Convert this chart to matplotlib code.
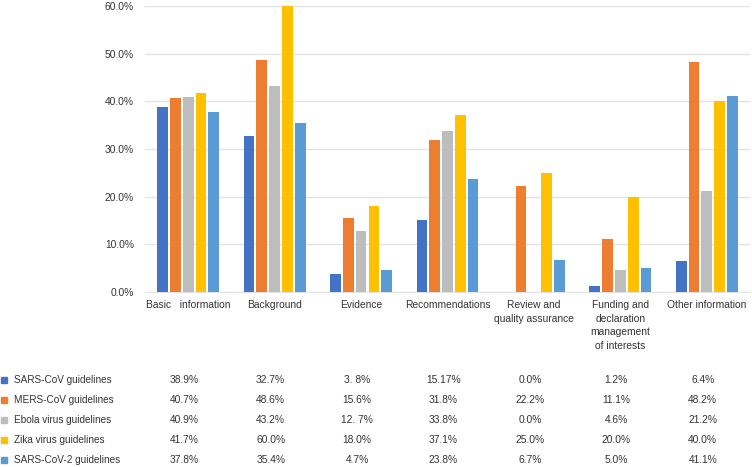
import matplotlib.pyplot as plt
import numpy as np
from matplotlib.ticker import PercentFormatter

plt.rcParams['font.family'] = ['Liberation Sans', 'DejaVu Sans']

# categories and series
categories = ['Basic   information', 'Background', 'Evidence', 'Recommendations',
              'Review and\nquality assurance',
              'Funding and\ndeclaration\nmanagement\nof interests',
              'Other information']
series_names = ['SARS-CoV guidelines', 'MERS-CoV guidelines', 'Ebola virus guidelines',
                'Zika virus guidelines', 'SARS-CoV-2 guidelines']

sars_cov = [38.9, 32.7, 3.8, 15.17, 0.0, 1.2, 6.4]
mers_cov = [40.7, 48.6, 15.6, 31.8, 22.2, 11.1, 48.2]
ebola = [40.9, 43.2, 12.7, 33.8, 0.0, 4.6, 21.2]
zika = [41.7, 60.0, 18.0, 37.1, 25.0, 20.0, 40.0]
sars_cov2 = [37.8, 35.4, 4.7, 23.8, 6.7, 5.0, 41.1]

# table text as printed in the source
table_text = [
    ['38.9%', '32.7%', '3. 8%', '15.17%', '0.0%', '1.2%', '6.4%'],
    ['40.7%', '48.6%', '15.6%', '31.8%', '22.2%', '11.1%', '48.2%'],
    ['40.9%', '43.2%', '12. 7%', '33.8%', '0.0%', '4.6%', '21.2%'],
    ['41.7%', '60.0%', '18.0%', '37.1%', '25.0%', '20.0%', '40.0%'],
    ['37.8%', '35.4%', '4.7%', '23.8%', '6.7%', '5.0%', '41.1%'],
]

colors = ['#4472C4', '#ED7D31', '#BDBDBD', '#FFC000', '#5B9BD5']
all_series = [sars_cov, mers_cov, ebola, zika, sars_cov2]

W, H = 752, 467
fig = plt.figure(figsize=(W / 100, H / 100), dpi=100)
ax = fig.add_axes([145 / W, (H - 292) / H, 605 / W, 286 / H])

x = np.arange(len(categories))
step = 0.148
bw = 0.124
for j, vals in enumerate(all_series):
    ax.bar(x + (j - 2) * step, vals, width=bw, color=colors[j], zorder=3)

ax.set_xlim(-0.5, len(categories) - 0.5)
ax.set_ylim(0, 60)
ax.set_yticks(np.arange(0, 61, 10))
ax.yaxis.set_major_formatter(PercentFormatter(decimals=1))
ax.tick_params(axis='y', length=0, pad=8, labelsize=7.4, labelcolor='#333333')
ax.set_xticks([])
ax.grid(axis='y', color='#E3E3E3', lw=1, zorder=0)
for s in ['top', 'right', 'left']:
    ax.spines[s].set_visible(False)
ax.spines['bottom'].set_color('#E3E3E3')

# category labels below axis
trans = ax.get_xaxis_transform()
for i, c in enumerate(categories):
    ax.text(i, -8 / 286, c, transform=trans, ha='center', va='top', fontsize=7.4,
            color='#333333', linespacing=1.45)

# data table with legend keys
row_y = [380, 400, 420, 440, 460]
for r, name in enumerate(series_names):
    yf = 1 - row_y[r] / H
    fig.patches.append(plt.Rectangle((1 / W, yf - 3 / H), 6 / W, 6 / H,
                                     transform=fig.transFigure, color=colors[r]))
    fig.text(14 / W, yf, name, ha='left', va='center', fontsize=7.2, color='#333333')
    for i in range(len(categories)):
        xf = (145 + (i + 0.5) * 605 / 7 - 4) / W
        fig.text(xf, yf, table_text[r][i], ha='center', va='center', fontsize=7.4,
                 color='#333333')

fig.savefig('out.png', dpi=100)
